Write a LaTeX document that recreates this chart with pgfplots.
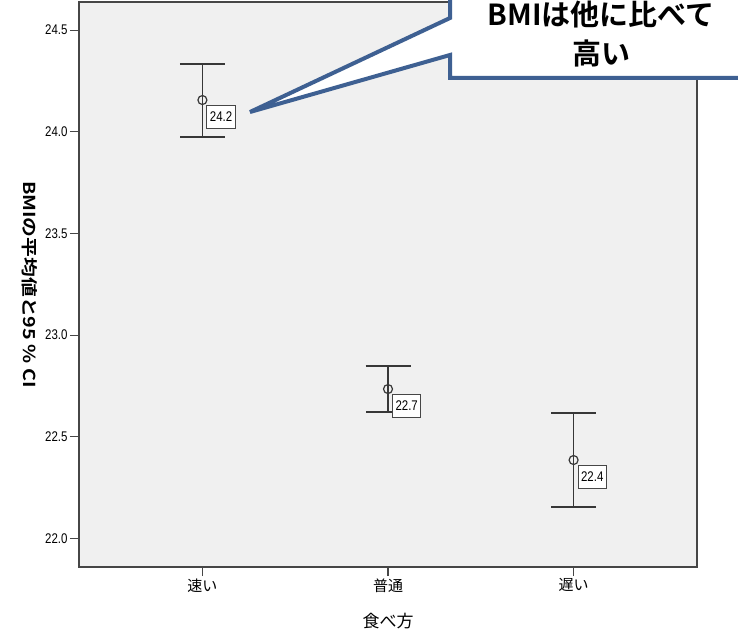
\documentclass[border=0pt]{standalone}
\usepackage{fontspec}
\setmainfont{Liberation Sans}
\newfontfamily\narrowsans{Liberation Sans}[FakeStretch=0.82]
\newfontfamily\jp{Noto Sans CJK JP}[BoldFont={Noto Sans CJK JP Bold}]
\newfontfamily\jplong{Noto Sans CJK JP Bold}[FakeStretch=1.2]
\usepackage{pgfplots}
\pgfplotsset{compat=1.18}

\definecolor{panel}{RGB}{240,240,240}
\definecolor{frame}{RGB}{70,70,70}
\definecolor{barc}{RGB}{55,55,55}
\definecolor{callout}{RGB}{62,96,146}

% group means with upper / lower 95% CI half-widths
\pgfplotstableread{
x  mean    ep     em
0  24.156  0.177  0.182
1  22.735  0.113  0.113
2  22.386  0.231  0.231
}\bmidata

% the same intervals as lower / upper ends, one segment per group
\pgfplotstableread{
x    y
0    23.974
0    24.333
nan  nan
1    22.622
1    22.848
nan  nan
2    22.155
2    22.617
}\cidata

\begin{document}
\begin{tikzpicture}[x=1pt,y=1pt]
\path[use as bounding box] (0,0) rectangle (738,633);
\begin{axis}[
  at={(79pt,66pt)}, anchor=south west,
  scale only axis, width=618pt, height=565pt,
  xmin=-0.665, xmax=2.665, ymin=21.86, ymax=24.638,
  axis background/.style={fill=panel},
  axis line style={draw=frame, line width=1.3pt},
  xtick={0,1,2}, xticklabels={速い,普通,遅い},
  ytick={22,22.5,23,23.5,24,24.5},
  tick pos=left, tick align=outside,
  major tick length=9pt,
  tick style={draw=frame, line width=1.1pt},
  /pgf/number format/assume math mode=true,
  yticklabel={\pgfmathprintnumber[fixed,fixed zerofill,precision=1]{\tick}},
  yticklabel style={font=\narrowsans\fontsize{14}{16}\selectfont, xshift=1pt},
  xticklabel style={font=\jp\fontsize{15}{17}\selectfont, yshift=1pt},
  xlabel={食べ方},
  xlabel style={font=\jp\fontsize{17}{20}\selectfont, at={(axis description cs:0.5,-0.095)}, anchor=center},
  ylabel={BMIの平均値と95 \% CI},
  ylabel style={font=\jplong\fontsize{16.5}{19}\selectfont, at={(axis description cs:-0.08,0.5)}, anchor=center, rotate=180},
  clip=false,
  unbounded coords=jump,
]
% interval stems
\addplot[mark=none, draw=barc, line width=1.6pt] table[x=x, y=y] {\cidata};
% means with interval caps
\addplot[only marks, mark=o, color=barc,
  mark options={line width=1.2pt, mark size=4.5pt},
  error bars/.cd, y dir=both, y explicit,
  error bar style={line width=1.5pt, draw=barc},
  error mark options={rotate=90, mark size=22.5pt, line width=1.5pt, draw=barc},
  ] table[x=x, y=mean, y error plus=ep, y error minus=em] {\bmidata};
% mean labels
\addplot[draw=none, mark=none, point meta=y,
  nodes near coords,
  nodes near coords style={anchor=north west, xshift=4pt, yshift=-5pt,
    draw=frame, fill=white, text=black, line width=1pt,
    inner xsep=3pt, inner ysep=6.5pt,
    font=\narrowsans\fontsize{14}{16}\selectfont,
    /pgf/number format/.cd, fixed, fixed zerofill, precision=1},
  ] table[x=x, y=mean] {\bmidata};
\end{axis}
% speech-bubble annotation pointing at the fast-eating group
\draw[callout, line width=4pt, fill=white, line join=miter]
  (450,660) -- (450,615) -- (250,521) -- (450,578) -- (450,555) -- (760,555) -- (760,660) -- cycle;
\node[align=center, font=\jp\bfseries\fontsize{29}{39}\selectfont, inner sep=0pt]
  at (601,599) {BMIは他に比べて\\高い};
\end{tikzpicture}
\end{document}
